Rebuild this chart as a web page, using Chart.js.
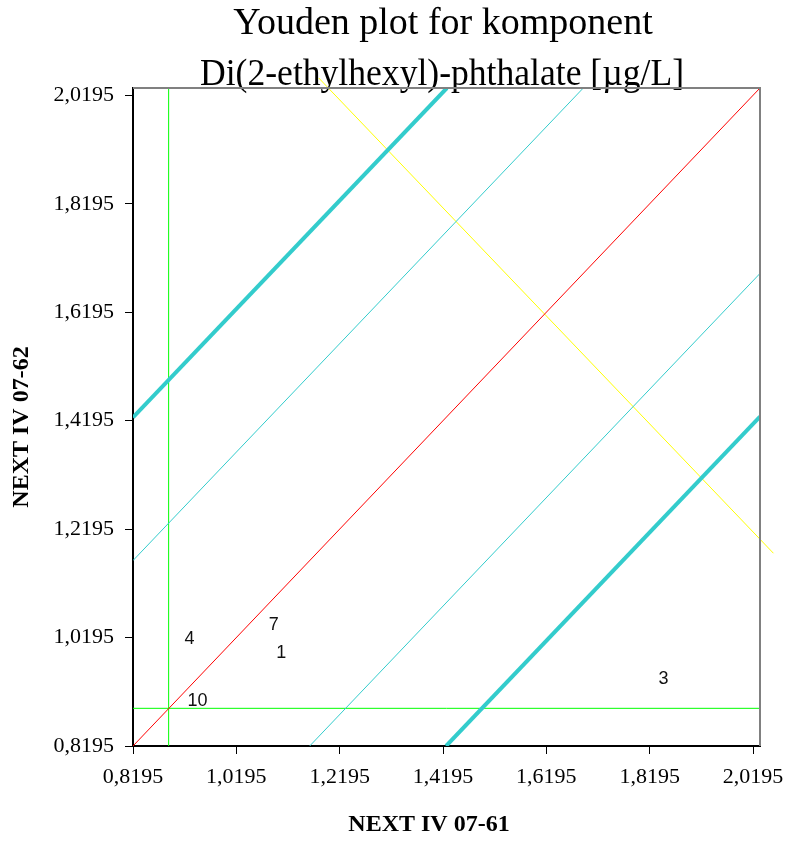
<!DOCTYPE html>
<html>
<head>
<meta charset="utf-8">
<title>Youden plot</title>
<script src="https://cdn.jsdelivr.net/npm/chart.js@4/dist/chart.umd.min.js"></script>
<style>
  html, body { margin: 0; padding: 0; background: #fff; }
  canvas { display: block; }
</style>
</head>
<body>
<canvas id="youdenChart" width="789" height="841"></canvas>
<script>
'use strict';

// ── Data ───────────────────────────────────────────────
const titleLines = ['Youden plot for komponent', 'Di(2-ethylhexyl)-phthalate [µg/L]'];
const xAxisTitle = 'NEXT IV 07-61';
const yAxisTitle = 'NEXT IV 07-62';

const axisMin = 0.8195;
const axisMax = 2.033;
const tickValues = [0.8195, 1.0195, 1.2195, 1.4195, 1.6195, 1.8195, 2.0195];

// Laboratory results (sample A on x, sample B on y)
const labNumbers = ['4', '7', '1', '10', '3'];
const resultsA = [0.929, 1.092, 1.1065, 0.9445, 1.8464];
const resultsB = [1.0164, 1.0435, 0.9918, 0.9025, 0.9431];

// Medians
const medianA = 0.8885;
const medianB = 0.889;

// Distance of the limit lines from the diagonal
const innerLimit = 0.342;
const outerLimit = 0.606;

// Perpendicular line (ends drawn a bit outside the plot)
const perpA = [1.179, 2.059];
const perpB = [2.0514, 1.175];

// ── Helpers ────────────────────────────────────────────
const SERIF = '"Liberation Serif", "Times New Roman", serif';
const SANS = '"Liberation Sans", Arial, sans-serif';

function formatTick(v) {
    return Number(v).toFixed(4).replace('.', ',');
}

function linea(puntos, color, ancho, clip) {
    return {
        data: puntos,
        showLine: true,
        borderColor: color,
        borderWidth: ancho,
        pointRadius: 0,
        pointHoverRadius: 0,
        fill: false,
        tension: 0,
        clip: clip
    };
}

const CYAN = '#33CCCC';

const datasets = [
    linea([{ x: axisMin, y: axisMin + innerLimit }, { x: axisMax - innerLimit, y: axisMax }], CYAN, 1, 0),
    linea([{ x: axisMin + innerLimit, y: axisMin }, { x: axisMax, y: axisMax - innerLimit }], CYAN, 1, 0),
    linea([{ x: axisMin, y: axisMin + outerLimit }, { x: axisMax - outerLimit, y: axisMax }], CYAN, 4, 0),
    linea([{ x: axisMin + outerLimit, y: axisMin }, { x: axisMax, y: axisMax - outerLimit }], CYAN, 4, 0),
    linea([{ x: axisMin, y: axisMin }, { x: axisMax, y: axisMax }], '#FF0000', 1, 0),
    linea([{ x: perpA[0], y: perpB[0] }, { x: perpA[1], y: perpB[1] }], '#FFFF00', 1, false),
    linea([{ x: medianA, y: axisMin }, { x: medianA, y: axisMax }], '#00FF00', 1, 0),
    linea([{ x: axisMin, y: medianB }, { x: axisMax, y: medianB }], '#00FF00', 1, 0),
    {
        data: resultsA.map((a, i) => ({ x: a, y: resultsB[i] })),
        showLine: false,
        pointRadius: 0,
        pointHoverRadius: 0
    }
];
const POINTS_INDEX = datasets.length - 1;

// ── Decoration: titles, frame and labels ──────────────
const youdenDecor = {
    id: 'youdenDecor',
    beforeDatasetsDraw(chart) {
        // titles go under the lines, as in the original
        const { ctx } = chart;
        ctx.save();
        ctx.fillStyle = '#000';
        ctx.textAlign = 'center';
        ctx.textBaseline = 'alphabetic';
        ctx.font = '38px ' + SERIF;
        ctx.fillText(titleLines[0], 443, 34);
        ctx.font = '37px ' + SERIF;
        ctx.fillText(titleLines[1], 442, 85, 484);

        ctx.font = 'bold 24px ' + SERIF;
        ctx.textBaseline = 'middle';
        ctx.fillText(xAxisTitle, 429, 825);
        ctx.translate(22, 427);
        ctx.rotate(-Math.PI / 2);
        ctx.fillText(yAxisTitle, 0, 0);
        ctx.restore();
    },
    afterDatasetsDraw(chart) {
        const { ctx, chartArea } = chart;
        ctx.save();
        // gray border top and right
        ctx.strokeStyle = '#808080';
        ctx.lineWidth = 2;
        ctx.beginPath();
        ctx.moveTo(chartArea.left, chartArea.top);
        ctx.lineTo(chartArea.right, chartArea.top);
        ctx.lineTo(chartArea.right, chartArea.bottom);
        ctx.stroke();

        // lab numbers
        ctx.fillStyle = '#111';
        ctx.font = '18px ' + SANS;
        ctx.textAlign = 'center';
        ctx.textBaseline = 'middle';
        chart.getDatasetMeta(POINTS_INDEX).data.forEach((pt, i) => {
            ctx.fillText(labNumbers[i], pt.x, pt.y);
        });
        ctx.restore();
    }
};

function escala(ancho, alto, padding) {
    return {
        type: 'linear',
        min: axisMin,
        max: axisMax,
        afterBuildTicks: s => { s.ticks = tickValues.map(v => ({ value: v })); },
        afterFit: s => {
            if (ancho) s.width = ancho;
            if (alto) s.height = alto;
            // layout.padding already leaves room for the end labels
            s.paddingLeft = 0;
            s.paddingRight = 0;
            s.paddingTop = 0;
            s.paddingBottom = 0;
        },
        ticks: {
            callback: v => formatTick(v),
            font: { family: SERIF, size: 22 },
            color: '#000',
            padding: padding,
            autoSkip: false,
            maxRotation: 0
        },
        grid: {
            drawOnChartArea: false,
            drawTicks: true,
            tickLength: 8,
            color: '#000',
            tickColor: '#000',
            tickWidth: 1
        },
        border: { display: true, color: '#000', width: 2 },
        title: { display: false }
    };
}

new Chart(document.getElementById('youdenChart').getContext('2d'), {
    type: 'scatter',
    data: { datasets: datasets },
    options: {
        responsive: false,
        animation: false,
        events: [],
        layout: { padding: { top: 88, right: 29, bottom: 0, left: 0 } },
        scales: {
            x: escala(null, 95, 10),
            y: escala(133, null, 11)
        },
        plugins: {
            legend: { display: false },
            tooltip: { enabled: false },
            title: { display: false }
        }
    },
    plugins: [youdenDecor]
});
</script>
</body>
</html>
